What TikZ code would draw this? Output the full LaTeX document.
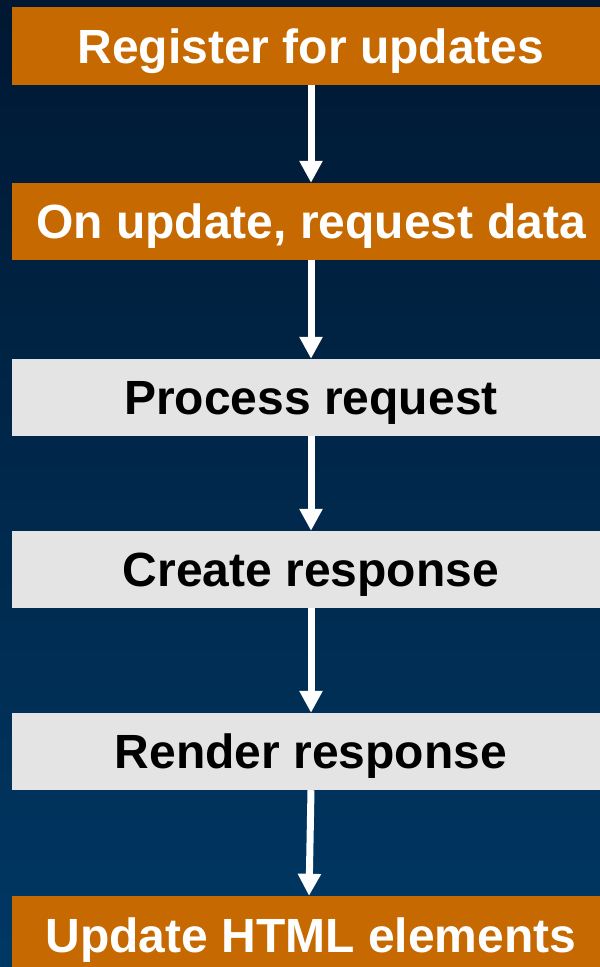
\documentclass[tikz,border=0pt]{standalone}
\usepackage{fontspec}
\setmainfont{Liberation Sans}
\usetikzlibrary{arrows.meta}
\definecolor{navytop}{RGB}{0,24,50}
\definecolor{navybottom}{RGB}{0,56,100}
\definecolor{rust}{RGB}{198,105,0}
\definecolor{pale}{RGB}{228,228,228}
\tikzset{
    base/.style={
        rectangle,
        minimum width=598pt,
        minimum height=77pt,
        inner sep=0pt,
        text height=34.4pt,
        text depth=0pt,
        font=\fontsize{48}{58}\selectfont\bfseries,
    },
    % Client side
    client/.style={
        base,
        fill=rust,
        text=white,
    },
    % Server side
    server/.style={
        base,
        fill=pale,
        text=black,
    },
    % Flow arrow
    flow/.style={
        draw=white,
        line width=7pt,
        -{Triangle[width=22pt,length=22pt]},
    },
}

\begin{document}
\begin{tikzpicture}[x=1pt,y=-1pt]
    \useasboundingbox (0,0) rectangle (600,967);
    \clip (0,0) rectangle (600,967);
    \shade[top color=navytop,bottom color=navybottom] (0,0) rectangle (600,967);
%STEPS_BEGIN%
    \node[client,minimum height=78pt] (register) at (311,46) {Register for updates};
    \node[client] (request) at (311,221.5) {On update, request data};
    \node[server] (process) at (311,397.5) {Process request};
    \node[server] (create) at (311,569.5) {Create response};
    \node[server] (render) at (311,751.5) {Render response};
    \node[client,minimum height=78pt] (html) at (311,935) {Update HTML elements};
%STEPS_END%

%ARROWS_BEGIN%
    \draw[flow] (register) -- (request);
    \draw[flow] (request) -- (process);
    \draw[flow] (process) -- (create);
    \draw[flow] (create) -- (render);
    \draw[flow] (render.south) -- ([xshift=-2pt]html.north);
%ARROWS_END%
\end{tikzpicture}
\end{document}
